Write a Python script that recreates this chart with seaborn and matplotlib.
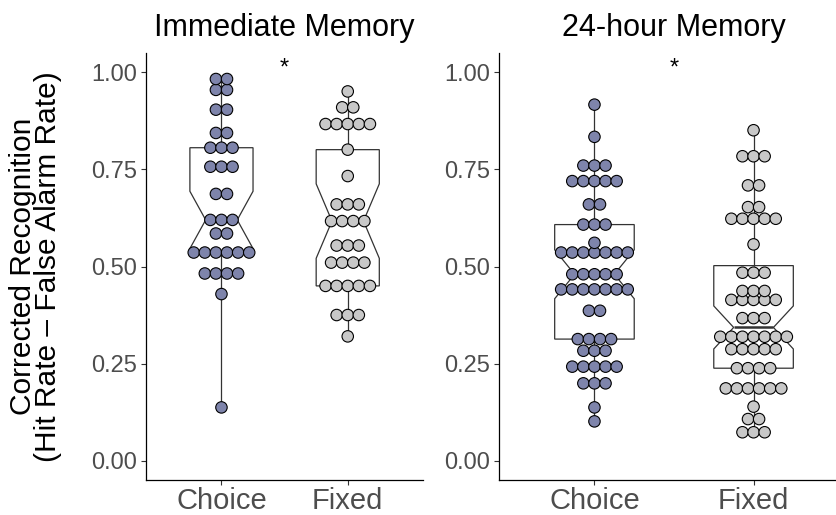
"""
Corrected recognition by condition: notched boxplots with centred dot stacks,
one panel for immediate memory and one for 24-hour memory.
"""
import matplotlib

matplotlib.use("Agg")
import matplotlib.pyplot as plt
import numpy as np
import pandas as pd
import seaborn as sns

sns.set_theme(style="ticks")
plt.rcParams["font.family"] = ["Liberation Sans", "DejaVu Sans"]

CONDITIONS = ["Choice", "Fixed"]
PANEL_TITLES = ["Immediate Memory", "24-hour Memory"]
CHOICE_FILL, FIXED_FILL = "#7E84AB", "#C8C8C8"
LINE = "#333333"

imm_choice_vals = [0.137, 0.429, 0.482, 0.536, 0.585, 0.620, 0.687, 0.757, 0.806, 0.844, 0.904, 0.955, 0.983]
imm_choice_counts = [1, 1, 4, 6, 2, 3, 2, 3, 3, 2, 2, 2, 2]
imm_fixed_vals = [0.320, 0.375, 0.450, 0.510, 0.554, 0.617, 0.660, 0.733, 0.801, 0.867, 0.910, 0.951]
imm_fixed_counts = [1, 3, 5, 4, 3, 4, 3, 1, 1, 5, 2, 1]

day_choice_vals = [0.101, 0.137, 0.199, 0.242, 0.283, 0.313, 0.386, 0.441, 0.480, 0.536, 0.561,
                   0.608, 0.660, 0.720, 0.760, 0.834, 0.917]
day_choice_counts = [1, 1, 3, 5, 3, 4, 2, 7, 5, 7, 1, 3, 2, 5, 3, 1, 1]
day_fixed_vals = [0.073, 0.107, 0.139, 0.186, 0.238, 0.287, 0.319, 0.367, 0.414, 0.437, 0.484,
                  0.557, 0.623, 0.653, 0.709, 0.784, 0.851]
day_fixed_counts = [3, 2, 1, 6, 4, 5, 7, 3, 5, 3, 3, 1, 5, 2, 2, 3, 1]

star_y = 1.01


def to_frame(choice_vals, choice_counts, fixed_vals, fixed_counts):
    parts = []
    for cond, vals, counts in [("Choice", choice_vals, choice_counts),
                               ("Fixed", fixed_vals, fixed_counts)]:
        parts.append(pd.DataFrame({"condition": cond,
                                   "score": np.repeat(vals, counts),
                                   "row": np.repeat(np.arange(len(vals)), counts),
                                   "n": np.repeat(counts, counts)}))
    df = pd.concat(parts, ignore_index=True)
    df["slot"] = df.groupby(["condition", "row"]).cumcount()
    return df


def dot_panel(ax, df, title, step):
    sns.boxplot(data=df, x="condition", y="score", order=CONDITIONS, notch=True,
                width=0.5, color="white", linecolor=LINE, linewidth=0.9,
                showfliers=False, showcaps=False, medianprops={"linewidth": 1.8}, ax=ax)
    # centred dot stacks, like a dotplot binned along y
    df = df.assign(pos=df["condition"].map({c: i for i, c in enumerate(CONDITIONS)})
                   + (df["slot"] - (df["n"] - 1) / 2) * step)
    sns.scatterplot(data=df, x="pos", y="score", hue="condition", hue_order=CONDITIONS,
                    palette=[CHOICE_FILL, FIXED_FILL], s=68, edgecolor="black",
                    linewidth=0.8, legend=False, zorder=3, ax=ax)
    ax.text(0.5, star_y, "*", ha="center", va="center", fontsize=17, color="black")
    ax.set_xlim(-0.6, 1.6)
    ax.set_ylim(-0.05, 1.05)
    ax.set_xticks([0, 1], CONDITIONS)
    ax.set_yticks([0, 0.25, 0.5, 0.75, 1.0], ["0.00", "0.25", "0.50", "0.75", "1.00"])
    ax.set_title(title, fontsize=22, pad=12, color="black")
    ax.set_xlabel("")
    ax.set_ylabel("")
    ax.tick_params(axis="x", labelsize=21, labelcolor="#4D4D4D", color=LINE,
                   length=3.5, width=0.8, pad=1.5)
    ax.tick_params(axis="y", labelsize=17, labelcolor="#4D4D4D", color=LINE,
                   length=3.5, width=0.8, pad=3)
    sns.despine(ax=ax)
    for side in ["left", "bottom"]:
        ax.spines[side].set_color("black")
        ax.spines[side].set_linewidth(0.9)


W, H = 837, 515
fig = plt.figure(figsize=(W / 100, H / 100), dpi=100)
ax1 = fig.add_axes([145.7 / W, 35 / H, 277.8 / W, 427 / H])
ax2 = fig.add_axes([499 / W, 35 / H, 350 / W, 427 / H])

DOT_STEP_PX = 11.1
imm = to_frame(imm_choice_vals, imm_choice_counts, imm_fixed_vals, imm_fixed_counts)
day = to_frame(day_choice_vals, day_choice_counts, day_fixed_vals, day_fixed_counts)
dot_panel(ax1, imm, PANEL_TITLES[0], DOT_STEP_PX * 2.2 / 277.8)
dot_panel(ax2, day, PANEL_TITLES[1], DOT_STEP_PX * 2.2 / 350)

ax1.set_ylabel("Corrected Recognition\n(Hit Rate \u2013 False Alarm Rate)", fontsize=21.5,
               color="black", linespacing=0.88)
ax1.yaxis.set_label_coords(-0.30, 0.5)

fig.savefig("out.png", dpi=100)
plt.close(fig)
